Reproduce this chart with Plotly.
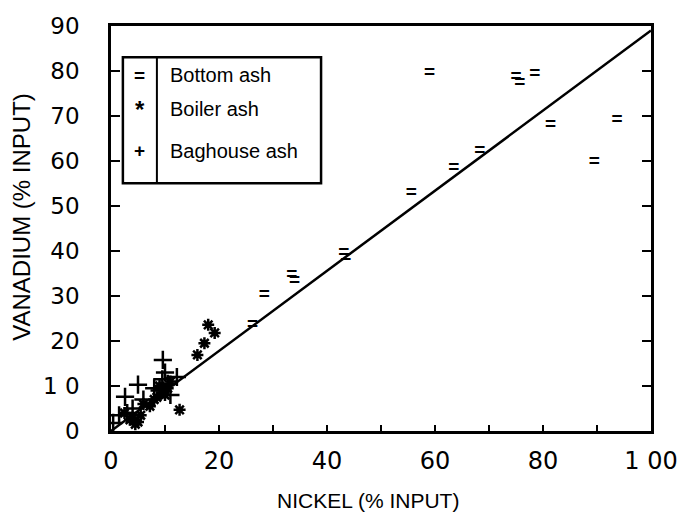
import plotly.graph_objects as go

# ---- data ----
bottom_x = [59.0, 75.0, 75.7, 78.5, 81.4, 93.7, 89.5, 68.3, 63.5, 55.6, 43.1, 43.5, 33.5, 34.0, 28.4, 26.2]
bottom_y = [79.5, 78.7, 77.3, 79.3, 68.0, 69.0, 59.8, 62.2, 58.4, 52.9, 39.6, 38.4, 34.6, 33.2, 30.2, 23.6]

boiler_x = [18.0, 19.2, 17.3, 16.0, 12.7, 7.2, 8.5, 9.5, 10.5, 9.0, 11.0, 4.0, 5.0, 3.5, 4.5, 6.0, 8.0, 10.0, 2.5, 5.5]
boiler_y = [23.6, 21.8, 19.5, 16.9, 4.7, 5.5, 7.5, 8.5, 9.5, 10.0, 11.0, 3.0, 2.0, 2.5, 1.5, 6.0, 7.0, 8.0, 4.0, 3.5]

baghouse_x = [9.6, 10.0, 5.0, 2.6, 12.2, 0.4, 1.5, 3.0, 9.0, 10.5, 11.0, 8.0, 6.0, 4.0, 9.5]
baghouse_y = [15.8, 13.0, 10.3, 7.6, 12.0, 1.8, 3.5, 4.0, 9.0, 10.5, 8.0, 9.5, 7.0, 5.0, 11.5]

fit_x = [0, 100]
fit_y = [0, 89]

x_ticks = [0, 20, 40, 60, 80, 100]
x_tick_text = ["0", "20", "40", "60", "80", "1 00"]
y_ticks = [0, 10, 20, 30, 40, 50, 60, 70, 80, 90]
y_tick_text = ["0", "1 0", "20", "30", "40", "50", "60", "70", "80", "90"]

legend_labels = ["Bottom ash", "Boiler ash", "Baghouse ash"]
legend_symbols = ["=", "*", "+"]

x_title = "NICKEL (% INPUT)"
y_title = "VANADIUM (% INPUT)"

FONT = "Liberation Sans, Arial, sans-serif"
TICKFONT = "DejaVu Sans, Liberation Sans, sans-serif"

fig = go.Figure()

fig.add_trace(go.Scatter(x=fit_x, y=fit_y, mode="lines",
                         line=dict(color="black", width=2.5), showlegend=False, hoverinfo="skip"))

fig.add_trace(go.Scatter(x=bottom_x, y=bottom_y, mode="text", text=["="] * len(bottom_x),
                         textfont=dict(family=FONT, size=19, color="black", weight="bold"),
                         textposition="middle center", showlegend=False))

fig.add_trace(go.Scatter(x=boiler_x, y=boiler_y, mode="markers",
                         marker=dict(symbol="asterisk-open", size=10, color="black",
                                     line=dict(color="black", width=2.5)),
                         showlegend=False))

fig.add_trace(go.Scatter(x=baghouse_x, y=baghouse_y, mode="markers",
                         marker=dict(symbol="cross-thin-open", size=13, color="black",
                                     line=dict(color="black", width=2.5)),
                         showlegend=False))

# ---- hand-drawn style legend box ----
fig.add_shape(type="rect", xref="paper", yref="paper", x0=0.022, x1=0.389, y0=0.612, y1=0.923,
              line=dict(color="black", width=2.5), fillcolor="white", layer="above")
fig.add_shape(type="line", xref="paper", yref="paper", x0=0.085, x1=0.085, y0=0.612, y1=0.923,
              line=dict(color="black", width=2))
leg_y = [0.879, 0.795, 0.692]
for lab, sym, yy in zip(legend_labels, legend_symbols, leg_y):
    fig.add_annotation(xref="paper", yref="paper", x=0.053, y=yy, text="<b>%s</b>" % sym, showarrow=False,
                       font=dict(family=FONT, size=19 if sym != "*" else 24, color="black"),
                       xanchor="center", yanchor="middle")
    fig.add_annotation(xref="paper", yref="paper", x=0.105, y=yy, text=lab, showarrow=False,
                       font=dict(family=FONT, size=20, color="black"),
                       xanchor="left", yanchor="middle")

# axis titles
fig.add_annotation(xref="paper", yref="paper", x=0.475, y=-0.172, text=x_title, showarrow=False,
                   font=dict(family=FONT, size=21, color="black"), xanchor="center", yanchor="middle")
fig.add_annotation(xref="paper", yref="paper", x=-0.166, y=0.53, text=y_title, showarrow=False,
                   textangle=-90, font=dict(family=FONT, size=24, color="black"),
                   xanchor="center", yanchor="middle")

fig.update_xaxes(range=[0, 100], tickvals=x_ticks, ticktext=x_tick_text,
                 ticks="inside", ticklen=6, tickwidth=1.5, tickcolor="black",
                 minor=dict(dtick=10, ticks="inside", ticklen=6, tickwidth=1.5, tickcolor="black"),
                 showline=True, linecolor="black", linewidth=2.5, mirror=True,
                 showgrid=False, zeroline=False,
                 tickfont=dict(family=TICKFONT, size=24, color="black"),
                 ticklabelstandoff=6)
fig.update_yaxes(range=[0, 90], tickvals=y_ticks, ticktext=y_tick_text,
                 ticks="inside", ticklen=9, tickwidth=1.5, tickcolor="black",
                 showline=True, linecolor="black", linewidth=2.5, mirror="ticks",
                 showgrid=False, zeroline=False,
                 tickfont=dict(family=TICKFONT, size=23, color="black"),
                 ticklabelstandoff=24)

fig.update_layout(width=690, height=517, margin=dict(l=111, r=36, t=26, b=86),
                  plot_bgcolor="white", paper_bgcolor="white", showlegend=False)

fig.write_html("out.html")
